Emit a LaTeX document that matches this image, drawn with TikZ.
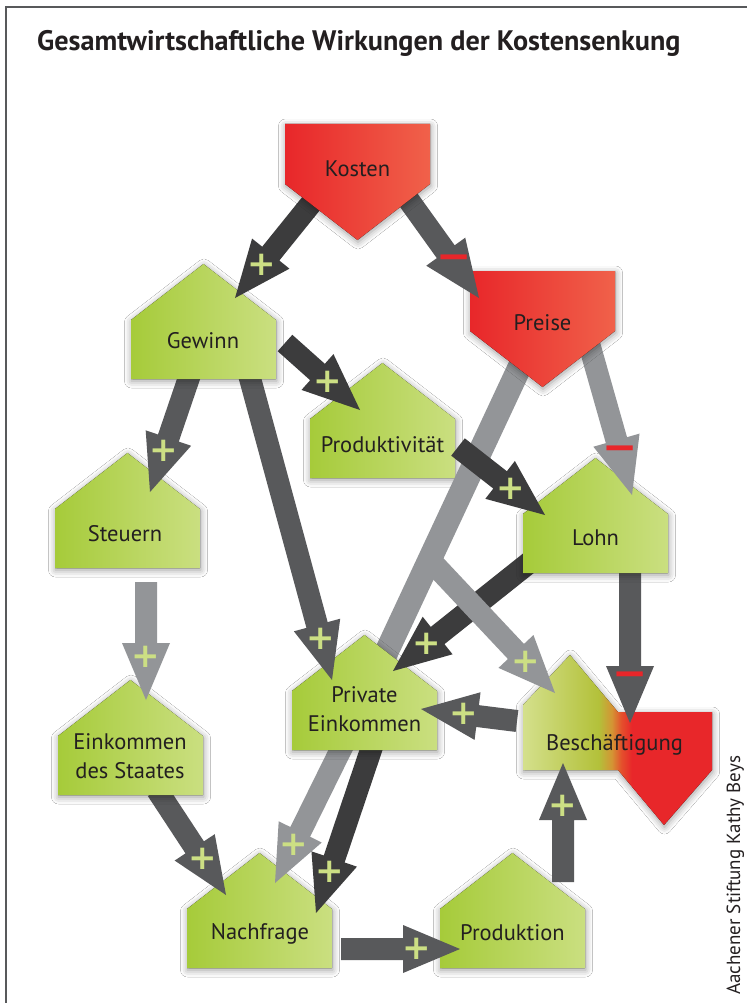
\documentclass[tikz,border=0pt]{standalone}
\usepackage{fontspec}
\setmainfont{PT Sans}
\newfontfamily\signfont{DejaVu Sans}
\usetikzlibrary{calc,shadows.blur}

\definecolor{gL}{HTML}{A6CB3A}
\definecolor{gR}{HTML}{CADF80}
\definecolor{rL}{HTML}{E8272A}
\definecolor{rR}{HTML}{F0614A}
\definecolor{darkc}{HTML}{3C3C3D}
\definecolor{midc}{HTML}{58595B}
\definecolor{lightc}{HTML}{939598}
\definecolor{plusc}{HTML}{CCDF84}
\definecolor{minusc}{HTML}{E8262A}
\definecolor{txt}{HTML}{231F20}
\definecolor{framec}{HTML}{58595B}
\definecolor{bA}{HTML}{D4E08C}
\definecolor{bB}{HTML}{B3C13A}
\definecolor{bC}{HTML}{D49434}
\definecolor{bD}{HTML}{E4502C}

\pgfdeclarehorizontalshading{beschshade}{100bp}{color(0bp)=(bA); color(25bp)=(bA); color(45bp)=(bB); color(48.5bp)=(bC); color(51bp)=(bD); color(53.8bp)=(rL); color(100bp)=(rL)}

\tikzset{
  shapeshadow/.style={blur shadow={shadow xshift=0.5pt, shadow yshift=-2pt, shadow blur radius=7pt, shadow opacity=40}},
  greenshape/.style={left color=gL, right color=gR, shapeshadow},
  redshape/.style={left color=rL, right color=rR, shapeshadow},
  beschshape/.style={shading=beschshade, shapeshadow},
  lbl/.style={text=txt, font=\fontsize{22.5}{29}\selectfont, inner sep=0pt, align=center},
  plussign/.style={text=plusc, font=\signfont\bfseries\fontsize{34}{34}\selectfont, inner sep=0pt},
  minussign/.style={text=minusc, font=\signfont\bfseries\fontsize{42}{42}\selectfont, inner sep=0pt},
}

% block arrow: #1 colour, #2 start, #3 tip, #4 sign style, #5 sign, #6 name
\newcommand\blockarrow[6]{%
  \path ($(#3)!57pt!(#2)$) coordinate (#6-h);
  \fill[#1] ($(#2)!11pt!90:(#3)$) -- ($(#6-h)!11pt!-90:(#2)$) -- ($(#6-h)!24pt!-90:(#2)$) -- (#3)
     -- ($(#6-h)!24pt!90:(#2)$) -- ($(#6-h)!11pt!90:(#2)$) -- ($(#2)!11pt!-90:(#3)$) -- cycle;
  \node[#4] (#6-s) at ($(#3)!43pt!(#2)$) {#5};
}
% plain band: #1 colour, #2 start, #3 end, #4 half width
\newcommand\bandline[4]{%
  \fill[#1] ($(#2)!#4!90:(#3)$) -- ($(#3)!#4!-90:(#2)$) -- ($(#3)!#4!90:(#2)$) -- ($(#2)!#4!-90:(#3)$) -- cycle;
}
\newcommand\greenhouse[2]{%
  \fill[greenshape] (#1,#2+56) -- (#1+72.5,#2) -- (#1+145,#2+56) -- (#1+145,#2+115) -- (#1,#2+115) -- cycle;
}
\newcommand\redpent[2]{%
  \fill[redshape] (#1,#2) -- (#1+145,#2) -- (#1+145,#2+60) -- (#1+72.5,#2+116) -- (#1,#2+60) -- cycle;
}

\begin{document}
\begin{tikzpicture}[x=1pt,y=-1pt]
\useasboundingbox (0,0) rectangle (747,1003);
\fill[white] (0,0) rectangle (747,1003);
\draw[framec, line width=1.6pt] (6,1003) -- (6,7) -- (747,7);

\node[text=txt, font=\bfseries\fontsize{28.2}{30}\selectfont, anchor=base west, inner sep=0pt] (title) at (37,51) {Gesamtwirtschaftliche Wirkungen der Kostensenkung};

% arrow end points
\coordinate (kg-a) at (318,195);  \coordinate (kg-b) at (235,298);
\coordinate (kp-a) at (405,195);  \coordinate (kp-b) at (479,298);
\coordinate (gpr-a) at (285,343); \coordinate (gpr-b) at (360,410);
\coordinate (gs-a) at (195,360);  \coordinate (gs-b) at (150,492);
\coordinate (gpe-a) at (245,360); \coordinate (gpe-b) at (332,680);
\coordinate (pl-a) at (588,340);  \coordinate (pl-b) at (632,495);
\coordinate (prl-a) at (458,447); \coordinate (prl-b) at (545,515);
\coordinate (ppe-a) at (522,362); \coordinate (ppe-b) at (379,668);
\coordinate (pb-a) at (430,560);  \coordinate (pb-b) at (555,693);
\coordinate (lpe-a) at (530,562); \coordinate (lpe-b) at (393,671);
\coordinate (lb-a) at (630,560);  \coordinate (lb-b) at (630,723);
\coordinate (bpe-a) at (517,721); \coordinate (bpe-b) at (421,709);
\coordinate (se-a) at (146,582);  \coordinate (se-b) at (146,700);
\coordinate (en-a) at (157,790);  \coordinate (en-b) at (226,895);
\coordinate (pn1-a) at (348,735); \coordinate (pn1-b) at (275,883);
\coordinate (pn2-a) at (376,735); \coordinate (pn2-b) at (316,913);
\coordinate (np-a) at (341,949);  \coordinate (np-b) at (460,949);
\coordinate (prb-a) at (563,882); \coordinate (prb-b) at (563,763);

% layered drawing
\greenhouse{187}{853}   % Nachfrage
\greenhouse{440}{853}   % Produktion
\fill[beschshape] (523,770) -- (523,705) -- (570,655) -- (618,712) -- (712,712) -- (712,770) -- (664,825) -- (618,770) -- cycle;
\greenhouse{310}{363}   % Produktivitaet
\bandline{lightc}{ppe-a}{ppe-b}{12pt}
\blockarrow{lightc}{pn1-a}{pn1-b}{plussign}{+}{pn1}
\blockarrow{darkc}{pn2-a}{pn2-b}{plussign}{+}{pn2}
\blockarrow{midc}{np-a}{np-b}{plussign}{+}{np}
\blockarrow{midc}{prb-a}{prb-b}{plussign}{+}{prb}
\blockarrow{midc}{en-a}{en-b}{plussign}{+}{en}
\greenhouse{292}{635}   % Private Einkommen
\greenhouse{58}{680}    % Einkommen des Staates
\blockarrow{lightc}{se-a}{se-b}{plussign}{+}{se}
\greenhouse{55}{453}    % Steuern
\blockarrow{midc}{bpe-a}{bpe-b}{plussign}{+}{bpe}
\blockarrow{darkc}{lpe-a}{lpe-b}{plussign}{+}{lpe}
\blockarrow{lightc}{pb-a}{pb-b}{plussign}{+}{pb}
\blockarrow{midc}{lb-a}{lb-b}{minussign}{−}{lb}
\greenhouse{523}{458}   % Lohn
\blockarrow{darkc}{prl-a}{prl-b}{plussign}{+}{prl}
\blockarrow{lightc}{pl-a}{pl-b}{minussign}{−}{pl}
\blockarrow{darkc}{gpr-a}{gpr-b}{plussign}{+}{gpr}
\blockarrow{midc}{gs-a}{gs-b}{plussign}{+}{gs}
\blockarrow{midc}{gpe-a}{gpe-b}{plussign}{+}{gpe}
\greenhouse{131}{264}   % Gewinn
\redpent{470}{271}      % Preise
\blockarrow{midc}{kp-a}{kp-b}{minussign}{−}{kp}
\blockarrow{darkc}{kg-a}{kg-b}{plussign}{+}{kg}
\redpent{285}{124}      % Kosten

% labels
\node[lbl, anchor=base] (kosten) at (357.5,177) {Kosten};
\node[lbl, anchor=base] (preise) at (542.5,330) {Preise};
\node[lbl, anchor=base] (gewinn) at (203,348) {Gewinn};
\node[lbl, anchor=base] (produktivitaet) at (382.5,452) {Produktivität};
\node[lbl, anchor=base] (steuern) at (125,541) {Steuern};
\node[lbl, anchor=base] (lohn) at (595.5,545) {Lohn};
\node[lbl] (eds) at (130,756) {Einkommen\\des Staates};
\node[lbl] (private) at (364.5,709) {Private\\Einkommen};
\node[lbl, anchor=base] (besch) at (614.5,750) {Beschäftigung};
\node[lbl, anchor=base] (nachfrage) at (260,939) {Nachfrage};
\node[lbl, anchor=base] (produktion) at (512.5,940) {Produktion};

\node[text=txt, font=\fontsize{19}{20}\selectfont, rotate=90, anchor=base west, inner sep=0pt] (credit) at (740,995) {Aachener Stiftung Kathy Beys};
\end{tikzpicture}
\end{document}
